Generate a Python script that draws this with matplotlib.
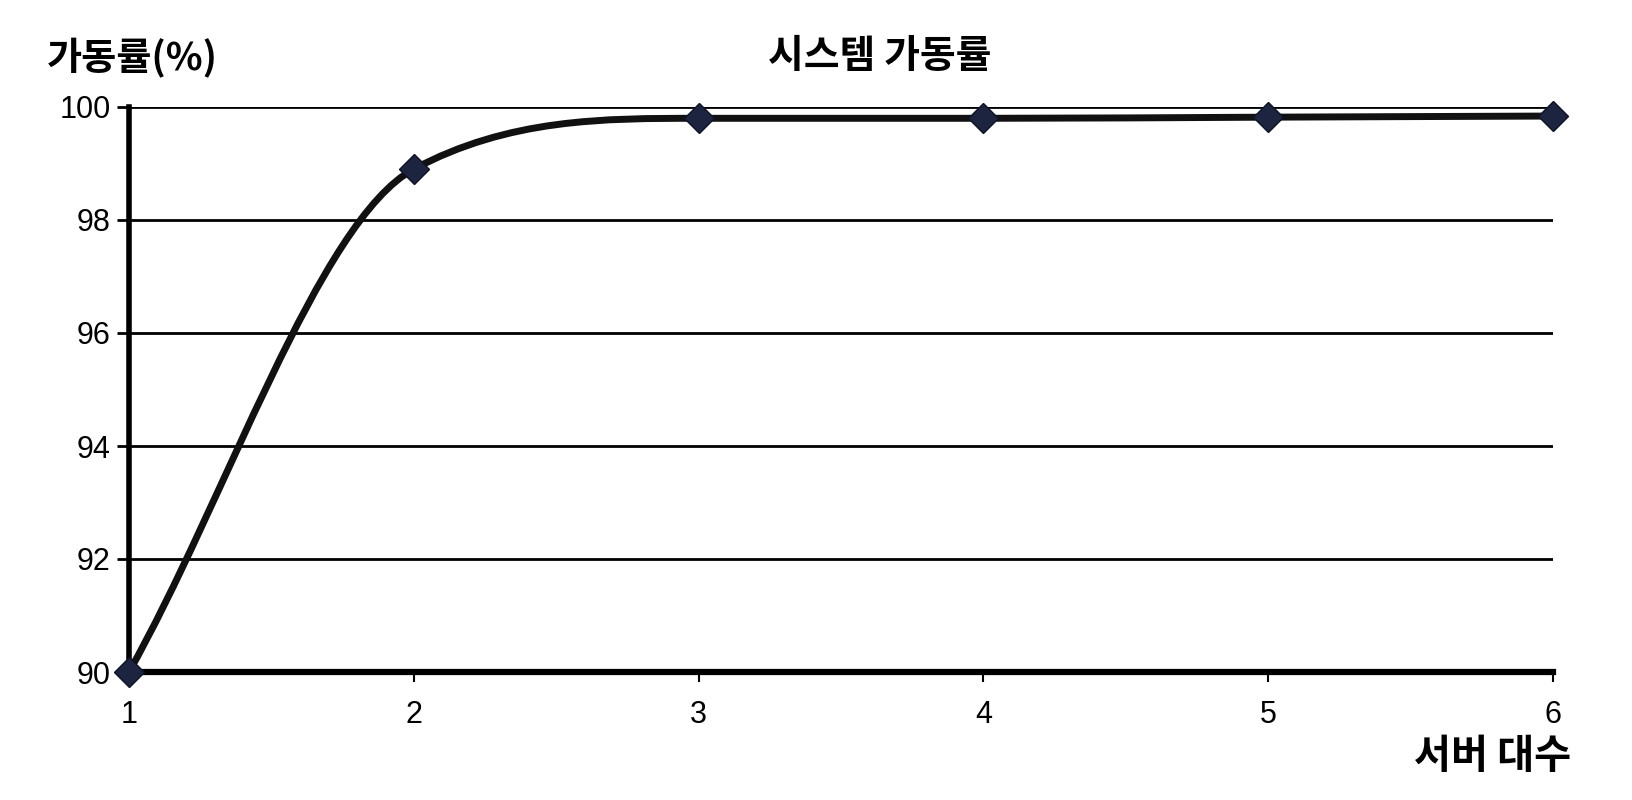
import numpy as np
import matplotlib.pyplot as plt
from matplotlib.path import Path
from matplotlib.patches import PathPatch

# Data
servers = [1, 2, 3, 4, 5, 6]
availability = [90.0, 98.9, 99.8, 99.8, 99.82, 99.84]
y_ticks = [90, 92, 94, 96, 98, 100]

title = '시스템 가동률'
y_title = '가동률(%)'
x_title = '서버 대수'

kr_font = ['Noto Sans CJK KR', 'DejaVu Sans']
num_font = 'Liberation Sans'

line_color = '#111111'
marker_color = '#1c2440'


def smooth_path(xs, ys):
    # Bezier curve through the points (spreadsheet-style smoothed line),
    # tangents clamped so the curve does not overshoot its neighbours.
    xs = np.asarray(xs, float)
    ys = np.asarray(ys, float)
    n = len(xs)
    m = np.zeros(n)
    m[0] = (ys[1] - ys[0]) / (xs[1] - xs[0])
    m[-1] = (ys[-1] - ys[-2]) / (xs[-1] - xs[-2])
    for i in range(1, n - 1):
        m[i] = (ys[i + 1] - ys[i - 1]) / (xs[i + 1] - xs[i - 1])
        lim_next = abs(ys[i + 1] - ys[i]) * 3 / (xs[i + 1] - xs[i])
        lim_prev = abs(ys[i] - ys[i - 1]) * 3 / (xs[i] - xs[i - 1])
        m[i] = np.sign(m[i]) * min(abs(m[i]), lim_next, lim_prev)
    verts = [(xs[0], ys[0])]
    codes = [Path.MOVETO]
    for i in range(n - 1):
        h = xs[i + 1] - xs[i]
        verts += [(xs[i] + h / 3, ys[i] + m[i] * h / 3),
                  (xs[i + 1] - h / 3, ys[i + 1] - m[i + 1] * h / 3),
                  (xs[i + 1], ys[i + 1])]
        codes += [Path.CURVE4] * 3
    return Path(verts, codes)


fig = plt.figure(figsize=(16.32, 8), dpi=100)
ax = fig.add_axes([0.079, 0.16, 0.8726, 0.70625])

ax.set_xlim(1, 6)
ax.set_ylim(90, 100)
ax.set_yticks(y_ticks)
ax.set_xticks(servers)

ax.grid(axis='y', color='black', linewidth=2.0)
ax.set_axisbelow(True)

ax.spines['top'].set_visible(False)
ax.spines['right'].set_visible(False)
ax.spines['left'].set_linewidth(4.0)
ax.spines['bottom'].set_linewidth(4.5)

ax.tick_params(axis='y', direction='out', length=9, width=2.0, pad=4,
               labelsize=22)
ax.tick_params(axis='x', direction='out', length=7, width=1.5, pad=13,
               labelsize=22)
for lab in ax.get_xticklabels() + ax.get_yticklabels():
    lab.set_fontfamily(num_font)

curve = PathPatch(smooth_path(servers, availability), facecolor='none',
                  edgecolor=line_color, linewidth=5, clip_on=False,
                  zorder=3, capstyle='round', joinstyle='round')
ax.add_patch(curve)
ax.plot(servers, availability, linestyle='none', marker='D', markersize=15,
        color=marker_color, markeredgecolor='#0d1326', markeredgewidth=1,
        clip_on=False, zorder=4)

fig.text(0.539, 0.929, title, ha='center', va='center', fontsize=28,
         fontweight='bold', family=kr_font)
fig.text(0.0288, 0.9275, y_title, ha='left', va='center', fontsize=27.5,
         fontweight='bold', family=kr_font)
fig.text(0.963, 0.055, x_title, ha='right', va='center', fontsize=29,
         fontweight='bold', family=kr_font)

fig.savefig('out.png', dpi=100)
